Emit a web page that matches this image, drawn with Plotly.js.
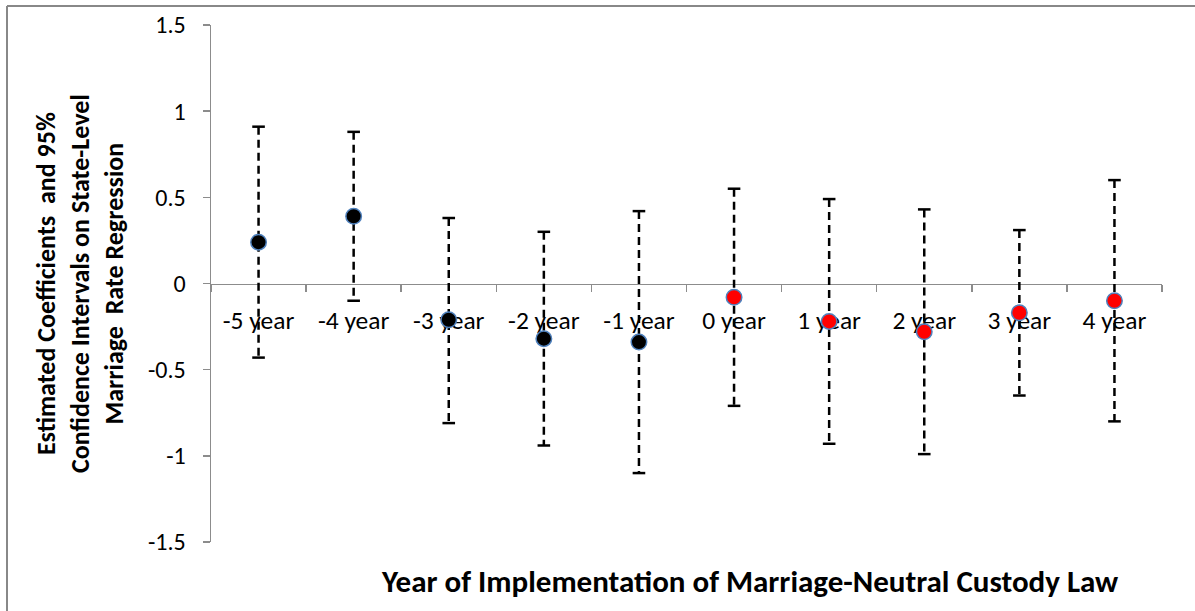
<!DOCTYPE html>
<html>
<head>
<meta charset="utf-8">
<script src="https://cdn.plot.ly/plotly-3.0.1.min.js"></script>
<style>
  html, body { margin: 0; padding: 0; background: #ffffff; }
  #chart { width: 1195px; height: 611px; }
</style>
</head>
<body>
<div id="chart"></div>
<script>
// ---- Data ----
const categories = ['-5 year', '-4 year', '-3 year', '-2 year', '-1 year',
                    '0 year', '1 year', '2 year', '3 year', '4 year'];
const coefficients = [0.24, 0.39, -0.21, -0.32, -0.34, -0.08, -0.22, -0.28, -0.17, -0.10];
const upperCI = [0.91, 0.88, 0.38, 0.30, 0.42, 0.55, 0.49, 0.43, 0.31, 0.60];
const lowerCI = [-0.43, -0.10, -0.81, -0.94, -1.10, -0.71, -0.93, -0.99, -0.65, -0.80];
const preCategories = categories.slice(0, 5);
const postCategories = categories.slice(5);
const yTickValues = [-1.5, -1, -0.5, 0, 0.5, 1, 1.5];
const yTickLabels = ['-1.5', '-1', '-0.5', '0', '0.5', '1', '1.5'];
const xAxisTitle = 'Year of Implementation of Marriage-Neutral Custody Law';
const yAxisTitle = 'Estimated Coefficients  and 95%<br>Confidence Intervals on State-Level<br>Marriage  Rate Regression';

// ---- Build traces ----
const ciX = [], ciY = [];
categories.forEach((c, i) => {
  ciX.push(c, c, null);
  ciY.push(upperCI[i], lowerCI[i], null);
});

const FONT = 'Carlito, Calibri, "Open Sans", sans-serif';
const AXIS_COLOR = '#8c8c8c';
const yRange = [-1.5, 1.5];

const traces = [
  {
    type: 'scatter', mode: 'lines', x: ciX, y: ciY,
    line: { color: '#000000', width: 2.5, dash: '8px,5px' },
    hoverinfo: 'skip', showlegend: false, cliponaxis: false
  },
  {
    type: 'scatter', mode: 'markers',
    x: categories.concat(categories), y: upperCI.concat(lowerCI),
    marker: { symbol: 'line-ew', size: 9, color: '#000000',
              line: { color: '#000000', width: 2.5 } },
    hoverinfo: 'skip', showlegend: false, cliponaxis: false
  },
  {
    type: 'scatter', mode: 'markers', name: 'Pre',
    x: preCategories, y: coefficients.slice(0, 5),
    marker: { size: 15.5, color: '#000000', line: { color: '#4f81bd', width: 1.5 } },
    showlegend: false, cliponaxis: false
  },
  {
    type: 'scatter', mode: 'markers', name: 'Post',
    x: postCategories, y: coefficients.slice(5),
    marker: { size: 15.5, color: '#ff0000', line: { color: '#4f81bd', width: 1.5 } },
    showlegend: false, cliponaxis: false
  }
];

const L = 211, R = 33, T = 25, B = 69;
const plotW = 1195 - L - R, plotH = 611 - T - B;
const px = (x) => (x - L) / plotW;
const py = (y) => (611 - B - y) / plotH;

const layout = {
  width: 1195, height: 611,
  margin: { l: L, r: R, t: T, b: B, pad: 0 },
  paper_bgcolor: '#ffffff', plot_bgcolor: '#ffffff',
  font: { family: FONT, color: '#000000' },
  showlegend: false,
  xaxis: {
    type: 'category', categoryorder: 'array', categoryarray: categories,
    range: [-0.5, categories.length - 0.5],
    anchor: 'free', position: (0 - yRange[0]) / (yRange[1] - yRange[0]),
    showline: true, linecolor: AXIS_COLOR, linewidth: 1.5,
    ticks: 'outside', tickson: 'boundaries', ticklen: 7, tickwidth: 1.5, tickcolor: AXIS_COLOR,
    tickfont: { family: FONT, size: 25.5, color: '#000000' },
    ticklabelstandoff: 13,
    showgrid: false, zeroline: false, layer: 'below traces', fixedrange: true
  },
  yaxis: {
    range: yRange, tickvals: yTickValues, ticktext: yTickLabels,
    showline: true, linecolor: AXIS_COLOR, linewidth: 1.5,
    ticks: 'outside', ticklen: 7, tickwidth: 1.5, tickcolor: AXIS_COLOR,
    tickfont: { family: FONT, size: 24, color: '#000000' },
    ticklabelstandoff: 12,
    showgrid: false, zeroline: false, layer: 'below traces', fixedrange: true
  },
  annotations: [
    {
      text: '<b>' + xAxisTitle + '</b>', xref: 'paper', yref: 'paper',
      x: px(749), y: py(581), xanchor: 'center', yanchor: 'middle',
      showarrow: false, font: { family: FONT, size: 31, color: '#000000' }
    },
    {
      text: '<b>' + yAxisTitle + '</b>', xref: 'paper', yref: 'paper',
      x: px(80), y: py(284), xanchor: 'center', yanchor: 'middle',
      textangle: -90, showarrow: false,
      font: { family: FONT, size: 26, color: '#000000' }
    }
  ],
  shapes: [
    { type: 'line', xref: 'paper', yref: 'paper', x0: px(7), x1: px(7), y0: py(6), y1: py(640),
      line: { color: '#888888', width: 2 } },
    { type: 'line', xref: 'paper', yref: 'paper', x0: px(7), x1: px(1220), y0: py(6), y1: py(6),
      line: { color: '#888888', width: 2 } }
  ]
};

Plotly.newPlot('chart', traces, layout, { displayModeBar: false, staticPlot: true });
</script>
</body>
</html>
